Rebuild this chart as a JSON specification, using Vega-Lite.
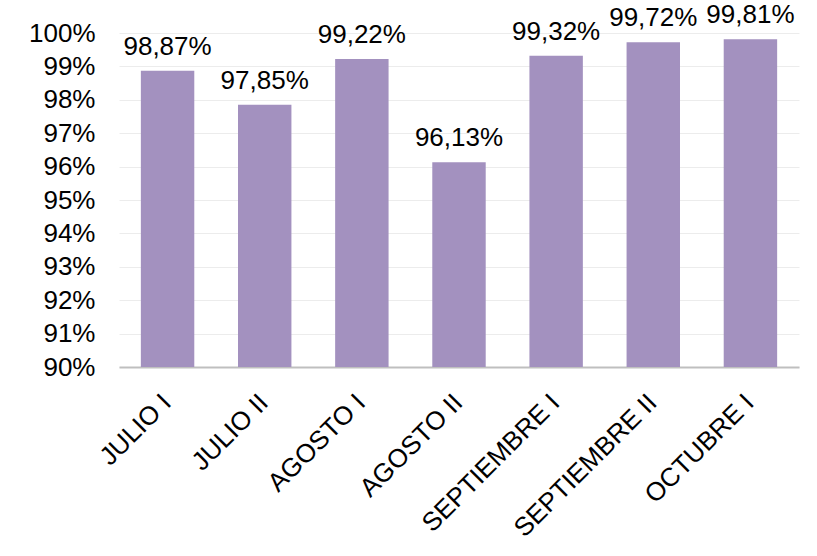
{
  "$schema": "https://vega.github.io/schema/vega-lite/v6.json",
  "width": 680,
  "height": 334,
  "autosize": {"type": "none"},
  "padding": {"left": 119, "top": 33, "right": 18, "bottom": 189},
  "background": "white",
  "config": {
    "locale": {"number": {"decimal": ",", "thousands": ".", "grouping": [3], "currency": ["", " €"]}},
    "view": {"stroke": null},
    "font": "Liberation Sans",
    "axis": {"labelFont": "Liberation Sans", "labelColor": "#000000", "labelFontSize": 26, "title": null, "labelLimit": 0}
  },
  "data": {
    "values": [
      {"periodo": "JULIO I", "valor": 0.9887},
      {"periodo": "JULIO II", "valor": 0.9785},
      {"periodo": "AGOSTO I", "valor": 0.9922},
      {"periodo": "AGOSTO II", "valor": 0.9613},
      {"periodo": "SEPTIEMBRE I", "valor": 0.9932},
      {"periodo": "SEPTIEMBRE II", "valor": 0.9972},
      {"periodo": "OCTUBRE I", "valor": 0.9981}
    ]
  },
  "encoding": {
    "x": {
      "field": "periodo",
      "type": "nominal",
      "sort": null,
      "scale": {"paddingInner": 0.45, "paddingOuter": 0.225},
      "axis": {"labelAngle": -45, "labelAlign": "right", "labelBaseline": "alphabetic", "labelOffset": 5, "ticks": false, "domainColor": "#bfbfbf", "domainWidth": 2, "labelPadding": 37, "grid": false}
    },
    "y": {
      "field": "valor",
      "type": "quantitative",
      "scale": {"domain": [0.9, 1.0], "zero": false, "nice": false},
      "axis": {"format": ".0%", "values": [0.9, 0.91, 0.92, 0.93, 0.94, 0.95, 0.96, 0.97, 0.98, 0.99, 1.0], "ticks": false, "domain": false, "gridColor": "#ececec", "gridWidth": 1, "labelPadding": 24}
    }
  },
  "layer": [
    {
      "mark": {"type": "bar", "color": "#a391bf"},
      "encoding": {"y2": {"datum": 0.9}}
    },
    {
      "mark": {"type": "text", "dy": -16, "baseline": "alphabetic", "fontSize": 26, "font": "Liberation Sans", "color": "#000000"},
      "encoding": {"text": {"field": "valor", "type": "quantitative", "format": ".2%"}}
    }
  ]
}
